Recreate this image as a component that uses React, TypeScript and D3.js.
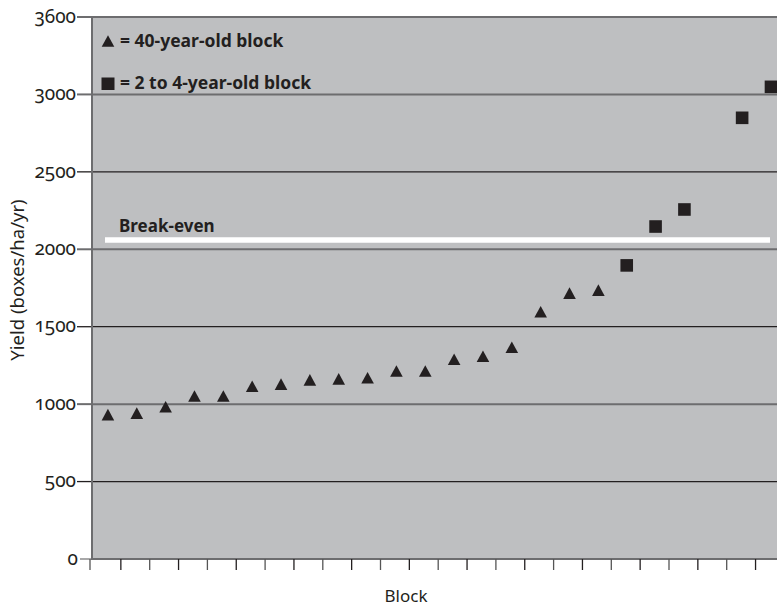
import React from "react";
import * as d3 from "d3";

const blocks = [
  "B1", "B2", "B3", "B4", "B5", "B6", "B7", "B8", "B9", "B10", "B11", "B12",
  "B13", "B14", "B15", "B16", "B17", "B18", "B19", "B20", "B21", "B22", "B23", "B24",
];

// 40-year-old blocks
const oldBlocks = [
  "B1", "B2", "B3", "B4", "B5", "B6", "B7", "B8", "B9", "B10", "B11", "B12",
  "B13", "B14", "B15", "B16", "B17", "B18",
];
const oldYield = [
  932, 942, 983, 1053, 1053, 1116, 1129, 1157, 1163, 1170, 1214, 1214,
  1290, 1309, 1367, 1597, 1717, 1736,
];

// 2 to 4-year-old blocks
const youngBlocks = ["B19", "B20", "B21", "B23", "B24"];
const youngYield = [1896, 2147, 2257, 2849, 3049];

const yTickValues = [0, 500, 1000, 1500, 2000, 2500, 3000, 3500];
const yTickLabels = ["0", "500", "1000", "1500", "2000", "2500", "3000", "3600"];

const breakEven = 2060;

const legendLabels = ["= 40-year-old block", "= 2 to 4-year-old block"];

const W = 777;
const H = 606;
const left = 92;
const top = 17;
const bottom = 559;
const step = 28.85;

const ink = "#231f20";
const gridGray = "#6d6d6f";
const bg = "#bebfc1";
const font = "'Noto Sans', 'Open Sans', sans-serif";

export default function App() {
  const x = d3
    .scaleBand<string>()
    .domain(blocks)
    .range([left, left + blocks.length * step])
    .padding(0);
  const y = d3.scaleLinear().domain([0, 3500]).range([bottom, top]);

  const bw = x.bandwidth();
  const cx = (b: string) => (x(b) as number) + bw / 2;

  const triPath = "M0,-5.8L6.3,5.8L-6.3,5.8Z";
  const sq = 12.6;

  const boundaries = blocks.map((b) => x(b) as number);

  return (
    <svg
      width={W}
      height={H}
      style={{ position: "absolute", left: 0, top: 0, background: "#fff" }}
      fontFamily={font}
    >
      {/* plot background */}
      <rect x={left} y={top} width={W - left} height={bottom - top} fill={bg} />

      {/* grid lines + y ticks */}
      {yTickValues.map((v, i) => {
        const major = v % 1000 === 0 || v === 3500;
        const stroke = major ? gridGray : ink;
        const sw = major ? 2 : 1.3;
        const yy = y(v);
        return (
          <g key={v}>
            {v > 0 && (
              <line x1={left} x2={W} y1={yy} y2={yy} stroke={stroke} strokeWidth={sw} />
            )}
            <line x1={v === 0 ? 80 : 77} x2={left} y1={yy} y2={yy} stroke={stroke} strokeWidth={v === 0 ? 1.2 : sw} />
            <text
              x={v === 0 ? 78 : 76}
              y={yy}
              dy="0.3em"
              textAnchor="end"
              fontSize={19}
              fill={ink}
              style={{ fontVariantNumeric: "oldstyle-nums" }}
            >
              {yTickLabels[i]}
            </text>
          </g>
        );
      })}

      {/* axes */}
      <line x1={left} x2={left} y1={top - 1} y2={bottom + 1} stroke={gridGray} strokeWidth={2} />
      <line x1={left} x2={W} y1={bottom} y2={bottom} stroke={gridGray} strokeWidth={2} />

      {/* x ticks at block boundaries */}
      {boundaries.map((bx, i) => (
        <line
          key={i}
          x1={i === 0 ? bx - 2 : bx}
          x2={i === 0 ? bx - 2 : bx}
          y1={bottom}
          y2={bottom + 11}
          stroke={i % 2 === 0 ? "#555" : ink}
          strokeWidth={1.3}
        />
      ))}

      {/* break-even */}
      <line
        x1={105}
        x2={770}
        y1={y(breakEven)}
        y2={y(breakEven)}
        stroke="#fff"
        strokeWidth={5.5}
      />
      <text x={119} y={231.5} fontSize={17} fontWeight="bold" fill={ink}>
        Break-even
      </text>

      {/* legend */}
      <path d={triPath} transform="translate(108,41)" fill={ink} />
      <text x={120} y={47} fontSize={17.5} fontWeight="bold" fill={ink}>
        {legendLabels[0]}
      </text>
      <rect x={101.5} y={77.5} width={13} height={12.5} fill={ink} />
      <text x={120} y={89} fontSize={17.5} fontWeight="bold" fill={ink}>
        {legendLabels[1]}
      </text>

      {/* 40-year-old blocks */}
      {oldBlocks.map((b, i) => (
        <path
          key={b}
          d={triPath}
          transform={`translate(${cx(b) + 1.5},${y(oldYield[i])})`}
          fill={ink}
        />
      ))}

      {/* 2 to 4-year-old blocks */}
      {youngBlocks.map((b, i) => (
        <rect
          key={b}
          x={cx(b) + 1 - sq / 2}
          y={y(youngYield[i]) - sq / 2}
          width={sq}
          height={sq}
          fill={ink}
        />
      ))}

      {/* axis titles */}
      <text x={406} y={602} textAnchor="middle" fontSize={17} fill={ink}>
        Block
      </text>
      <text
        transform="translate(24,280) rotate(-90)"
        textAnchor="middle"
        fontSize={18.5}
        fill={ink}
      >
        Yield (boxes/ha/yr)
      </text>
    </svg>
  );
}
